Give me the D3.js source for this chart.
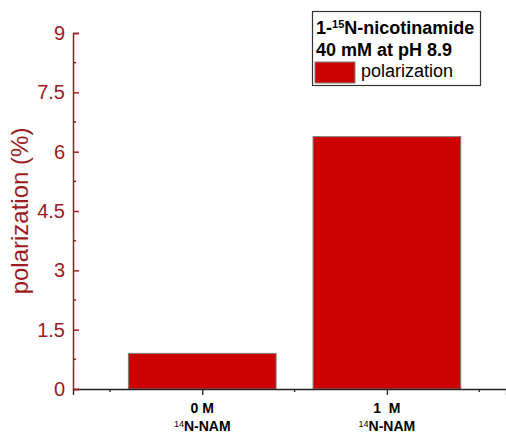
<!DOCTYPE html>
<html>
<head>
<meta charset="utf-8">
<script src="https://cdn.jsdelivr.net/npm/d3@7"></script>
<style>
  body { margin: 0; background: #fff; }
  text { font-family: "Liberation Sans", Arial, sans-serif; }
</style>
</head>
<body>
<script>
const categories = ['0 M', '1  M']
const catPos = [1, 2]
const values = [0.90, 6.38]
const yTicks = [0, 1.5, 3, 4.5, 6, 7.5, 9]
const yMinor = [0.75, 2.25, 3.75, 5.25, 6.75, 8.25]
const xMinor = [0.5, 1.5, 2.5]

const width = 506, height = 435
const margin = {top: 33, right: 0, bottom: 46, left: 73}
const axisRed = '#9b1b1e', barRed = '#cc0000'

const svg = d3.select('body').append('svg')
    .attr('width', width)
    .attr('height', height)

const x = d3.scaleLinear()
    .domain([0.3, 2.645])
    .range([margin.left, width - margin.right])

const y = d3.scaleLinear()
    .domain([0, 9])
    .range([height - margin.bottom, margin.top])

const barW = x(1.8) - x(1)

// bars
svg.selectAll('.bar').data(values)
  .enter()
  .append('rect')
    .attr('x', (d, i) => x(catPos[i]) - barW / 2)
    .attr('y', d => y(d))
    .attr('width', barW)
    .attr('height', d => y(0) - y(d))
    .attr('fill', barRed)
    .attr('stroke', '#808080')
    .attr('stroke-width', 1)

// x axis
const xAxis = svg.append('g')
    .attr('transform', 'translate(0,' + y(0) + ')')
    .call(d3.axisBottom(x).tickValues(catPos).tickSize(6).tickFormat(''))
xAxis.select('.domain').attr('stroke', '#222').attr('stroke-width', 1.3)
xAxis.selectAll('.tick line').attr('stroke', '#222').attr('stroke-width', 1.3)
xAxis.selectAll('.minor').data(xMinor).enter()
  .append('line')
    .attr('x1', d => x(d)).attr('x2', d => x(d))
    .attr('y1', 0).attr('y2', 3)
    .attr('stroke', '#222').attr('stroke-width', 1.3)

// x labels
const xl = svg.append('g')
categories.forEach((c, i) => {
  xl.append('text')
    .attr('x', x(catPos[i]))
    .attr('y', 413)
    .attr('text-anchor', 'middle')
    .attr('xml:space', 'preserve')
    .style('font-size', '14px')
    .style('font-weight', 'bold')
    .style('white-space', 'pre')
    .text(c)
  const t = xl.append('text')
    .attr('x', x(catPos[i]))
    .attr('y', 431)
    .attr('text-anchor', 'middle')
    .style('font-size', '14px')
    .style('font-weight', 'bold')
  t.append('tspan').attr('baseline-shift', '4').style('font-size', '9px').style('font-weight', 'normal').text('14')
  t.append('tspan').attr('baseline-shift', '0').text('N-NAM')
})

// y axis (ticks point inward)
const yAxis = svg.append('g')
    .attr('transform', 'translate(' + margin.left + ',0)')
    .call(d3.axisRight(y).tickValues(yTicks).tickSize(6).tickPadding(0)
      .tickFormat(d => d))
yAxis.select('.domain').attr('stroke', axisRed).attr('stroke-width', 1.5)
yAxis.selectAll('.tick line').attr('stroke', axisRed).attr('stroke-width', 1.5)
yAxis.selectAll('.tick text')
    .attr('x', -8)
    .attr('text-anchor', 'end')
    .attr('fill', axisRed)
    .style('font-size', '20px')
yAxis.selectAll('.minor').data(yMinor).enter()
  .append('line')
    .attr('x1', 0).attr('x2', 3)
    .attr('y1', d => y(d)).attr('y2', d => y(d))
    .attr('stroke', axisRed).attr('stroke-width', 1.5)

svg.append('text')
    .attr('transform', 'translate(28,' + ((y(0) + y(9)) / 2) + ')rotate(-90)')
    .attr('text-anchor', 'middle')
    .attr('fill', axisRed)
    .style('font-size', '24px')
    .text('polarization (%)')

// legend
const lg = svg.append('g')
lg.append('rect')
    .attr('x', 312.5).attr('y', 11.5)
    .attr('width', 168).attr('height', 74)
    .attr('fill', '#fff')
    .attr('stroke', '#333').attr('stroke-width', 1.2)
const t1 = lg.append('text')
    .attr('x', 316).attr('y', 34)
    .style('font-size', '18px').style('font-weight', 'bold')
t1.append('tspan').text('1-')
t1.append('tspan').attr('baseline-shift', '6').style('font-size', '11px').text('15')
t1.append('tspan').attr('baseline-shift', '0').text('N-nicotinamide')
lg.append('text')
    .attr('x', 316).attr('y', 56)
    .style('font-size', '18px').style('font-weight', 'bold')
    .text('40 mM at pH 8.9')
lg.append('rect')
    .attr('x', 315).attr('y', 62)
    .attr('width', 40).attr('height', 21)
    .attr('fill', barRed)
    .attr('stroke', '#808080')
lg.append('text')
    .attr('x', 361).attr('y', 77)
    .style('font-size', '18px')
    .text('polarization')
</script>
</body>
</html>
